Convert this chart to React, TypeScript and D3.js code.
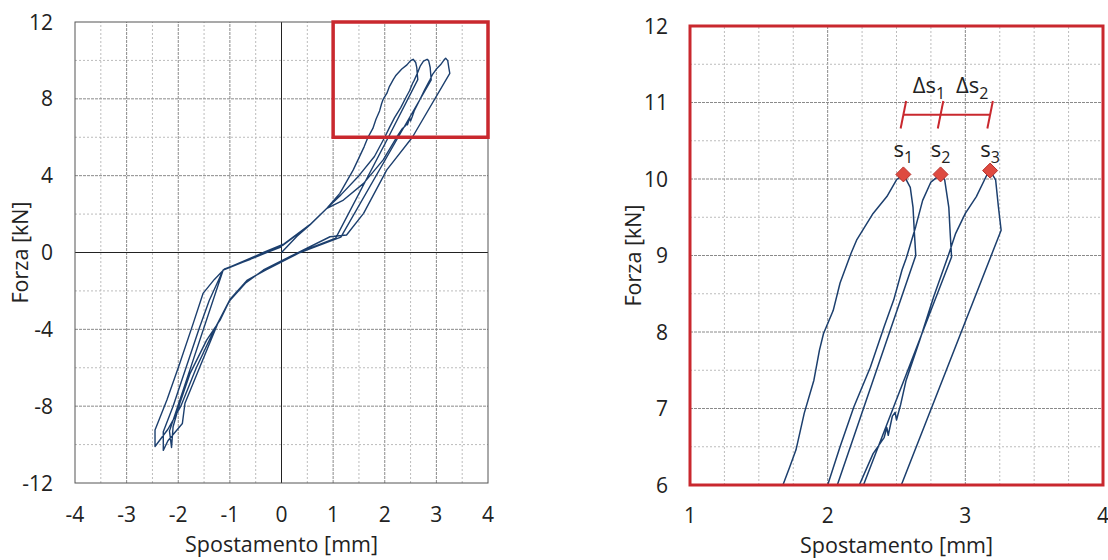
import React, { useEffect, useRef } from "react"
import * as d3 from "d3"

// --- data ---
type Pt = [number, number]

// first loading, origin -> s1
const load1: Pt[] = [
  [0, 0], [0.3, 0.85], [0.55, 1.43], [0.88, 2.3], [1.13, 3.08], [1.39, 4.3], [1.6, 5.5],
  [1.675, 6.0], [1.725, 6.24], [1.77, 6.46], [1.83, 6.94], [1.9, 7.37], [1.94, 7.76],
  [1.97, 7.98], [2.04, 8.28], [2.09, 8.64], [2.17, 9.03], [2.21, 9.2], [2.33, 9.55],
  [2.43, 9.77], [2.5, 9.99], [2.55, 10.06],
]
// s1 -> first negative peak
const unload1: Pt[] = [
  [2.6, 9.89], [2.62, 9.63], [2.63, 9.29], [2.64, 9.0], [2.07, 6.0], [1.05, 0.75],
  [0.3, -0.04], [-0.35, -0.95], [-0.67, -1.5], [-1.0, -2.47], [-1.19, -3.52],
  [-1.45, -4.56], [-1.77, -6.29], [-1.97, -7.85], [-2.1, -9.07], [-2.13, -10.15],
]
// negative peak 1 -> s2
const reload1: Pt[] = [
  [-2.17, -9.3], [-1.13, -0.91], [-0.6, -0.35], [-0.35, -0.04], [0.035, 0.39], [0.55, 1.43],
  [0.88, 2.3], [1.15, 3.0], [1.5, 4.0], [1.8, 5.0], [2.0, 6.0], [2.09, 6.5], [2.19, 7.02],
  [2.31, 7.54], [2.41, 8.07], [2.48, 8.42], [2.54, 8.81], [2.57, 8.96], [2.64, 9.38],
  [2.69, 9.72], [2.75, 9.96], [2.82, 10.06],
]
// s2 -> negative peak 2
const unload2: Pt[] = [
  [2.85, 9.99], [2.88, 9.63], [2.89, 9.29], [2.9, 8.98], [2.26, 6.0], [1.15, 0.8],
  [0.36, 0.0], [-0.3, -0.9], [-0.67, -1.45], [-1.0, -2.45], [-1.22, -3.6], [-1.58, -5.95],
  [-1.87, -7.85], [-1.92, -8.9], [-2.2, -9.8], [-2.29, -10.3],
]
// negative peak 2 -> s3
const reload2: Pt[] = [
  [-2.29, -9.33], [-2.1, -8.0], [-1.85, -6.0], [-1.6, -4.0], [-1.4, -2.5], [-1.13, -0.91],
  [-0.6, -0.3], [-0.35, 0.0], [0.05, 0.45], [0.55, 1.45], [0.88, 2.3], [1.2, 2.73],
  [1.59, 3.6], [1.97, 4.82], [2.23, 6.0], [2.33, 6.41], [2.41, 6.62], [2.43, 6.75],
  [2.44, 6.65], [2.47, 6.9], [2.49, 6.95], [2.5, 6.85], [2.53, 7.05], [2.57, 7.37],
  [2.67, 7.9], [2.77, 8.46], [2.88, 9.02], [2.93, 9.29], [3.0, 9.55], [3.08, 9.77],
  [3.15, 10.03], [3.18, 10.11],
]
// s3 -> negative peak 3
const unload3: Pt[] = [
  [3.22, 9.99], [3.24, 9.64], [3.26, 9.33], [2.535, 6.0], [2.04, 4.3], [1.59, 2.04],
  [1.26, 0.91], [0.94, 0.82], [0.29, -0.04], [-0.35, -0.91], [-0.7, -1.6], [-1.0, -2.5],
  [-1.3, -4.0], [-1.65, -6.0], [-1.95, -8.0], [-2.2, -9.2], [-2.45, -10.1],
]
// negative peak 3 -> back towards origin
const reload3: Pt[] = [
  [-2.45, -9.24], [-2.22, -7.68], [-1.97, -5.77], [-1.71, -3.69], [-1.52, -2.13],
  [-1.3, -1.4], [-1.1, -0.85], [-0.6, -0.35], [-0.3, -0.02], [0, 0.3],
]

const peakX = [2.55, 2.82, 3.18]
const peakY = [10.06, 10.06, 10.11]
const peakIdx = ["1", "2", "3"]
const deltaY = 10.84

const leftXTicks = [-4, -3, -2, -1, 0, 1, 2, 3, 4]
const leftYTicks = [-12, -8, -4, 0, 4, 8, 12]
const rightXTicks = [1, 2, 3, 4]
const rightYTicks = [6, 7, 8, 9, 10, 11, 12]

const FONT = "'Open Sans', sans-serif"
const RED = "#c9282e"
const LINE = "#1c3f6e"

function drawGrid(g: any, x: any, y: any, xs: number[], ys: number[], isMajorX: (v: number) => boolean, isMajorY: (v: number) => boolean) {
  const [x0, x1] = x.range()
  const [y0, y1] = y.range()
  xs.forEach((v) => {
    g.append("line")
      .attr("x1", x(v)).attr("x2", x(v)).attr("y1", y0).attr("y2", y1)
      .attr("stroke", isMajorX(v) ? "#8a8a8a" : "#bcbcbc")
      .attr("stroke-dasharray", isMajorX(v) ? "3,1" : "2,2")
      .attr("stroke-width", 1)
  })
  ys.forEach((v) => {
    g.append("line")
      .attr("x1", x0).attr("x2", x1).attr("y1", y(v)).attr("y2", y(v))
      .attr("stroke", isMajorY(v) ? "#8a8a8a" : "#bcbcbc")
      .attr("stroke-dasharray", isMajorY(v) ? "3,1" : "2,2")
      .attr("stroke-width", 1)
  })
}

export default function App() {
  const ref = useRef<SVGSVGElement>(null)

  useEffect(() => {
    const svg = d3.select(ref.current)
    svg.selectAll("*").remove()

    const curve: Pt[] = [...load1, ...unload1, ...reload1, ...unload2, ...reload2, ...unload3, ...reload3]

    // ---------- left chart ----------
    const xL = d3.scaleLinear().domain([-4, 4]).range([75, 488])
    const yL = d3.scaleLinear().domain([-12, 12]).range([483, 22])
    const gl = svg.append("g")

    const lxs = d3.range(-3.5, 4, 0.5).filter((v) => v !== 0)
    const lys = d3.range(-10, 12, 2).filter((v) => v !== 0)
    drawGrid(gl, xL, yL, lxs, lys, (v) => Number.isInteger(v), (v) => v % 4 === 0)

    gl.append("line").attr("x1", xL(0)).attr("x2", xL(0)).attr("y1", yL(-12)).attr("y2", yL(12))
      .attr("stroke", "#222").attr("stroke-width", 1)
    gl.append("line").attr("x1", xL(-4)).attr("x2", xL(4)).attr("y1", yL(0)).attr("y2", yL(0))
      .attr("stroke", "#222").attr("stroke-width", 1)
    gl.append("rect").attr("x", xL(-4)).attr("y", yL(12)).attr("width", xL(4) - xL(-4)).attr("height", yL(-12) - yL(12))
      .attr("fill", "none").attr("stroke", "#555").attr("stroke-width", 1)

    const lineL = d3.line<Pt>().x((d) => xL(d[0])).y((d) => yL(d[1]))
    gl.append("path").attr("d", lineL(curve)).attr("fill", "none")
      .attr("stroke", LINE).attr("stroke-width", 1.4).attr("stroke-linejoin", "round")

    gl.append("rect").attr("x", xL(1)).attr("y", yL(12)).attr("width", xL(4) - xL(1)).attr("height", yL(6) - yL(12))
      .attr("fill", "none").attr("stroke", RED).attr("stroke-width", 3.5)

    leftYTicks.forEach((v) => {
      gl.append("text").attr("x", 53).attr("y", yL(v)).attr("dy", "0.36em").attr("text-anchor", "end")
        .style("font-family", FONT).style("font-size", "21px").attr("fill", "#222").text(String(v))
    })
    leftXTicks.forEach((v) => {
      gl.append("text").attr("x", xL(v)).attr("y", 522).attr("text-anchor", "middle")
        .style("font-family", FONT).style("font-size", "21px").attr("fill", "#222").text(String(v))
    })
    gl.append("text").attr("x", xL(0)).attr("y", 552).attr("text-anchor", "middle")
      .style("font-family", FONT).style("font-size", "21.5px").attr("fill", "#222").text("Spostamento [mm]")
    gl.append("text").attr("transform", `translate(28,${yL(0)}) rotate(-90)`).attr("text-anchor", "middle")
      .style("font-family", FONT).style("font-size", "21.5px").attr("fill", "#222").text("Forza [kN]")

    // ---------- right chart ----------
    const xR = d3.scaleLinear().domain([1, 4]).range([690, 1103])
    const yR = d3.scaleLinear().domain([6, 12]).range([485, 26])
    const gr = svg.append("g")

    const rxs = d3.range(1.25, 4, 0.25)
    const rys = d3.range(6.5, 12, 0.5)
    drawGrid(gr, xR, yR, rxs, rys, (v) => Number.isInteger(v), (v) => Number.isInteger(v))

    svg.append("defs").append("clipPath").attr("id", "clipR").append("rect")
      .attr("x", xR(1)).attr("y", yR(12)).attr("width", xR(4) - xR(1)).attr("height", yR(6) - yR(12))

    const lineR = d3.line<Pt>().x((d) => xR(d[0])).y((d) => yR(d[1]))
    gr.append("path").attr("d", lineR(curve)).attr("fill", "none").attr("clip-path", "url(#clipR)")
      .attr("stroke", LINE).attr("stroke-width", 1.5).attr("stroke-linejoin", "round")

    gr.append("rect").attr("x", xR(1)).attr("y", yR(12)).attr("width", xR(4) - xR(1)).attr("height", yR(6) - yR(12))
      .attr("fill", "none").attr("stroke", RED).attr("stroke-width", 3)

    // peak markers
    peakX.forEach((px, i) => {
      const cx = xR(px), cy = yR(peakY[i])
      gr.append("path").attr("d", `M${cx},${cy - 7.5}L${cx + 7.5},${cy}L${cx},${cy + 7.5}L${cx - 7.5},${cy}Z`)
        .attr("fill", "#de4a40").attr("stroke", "#b8302b").attr("stroke-width", 1)
      const t = gr.append("text").attr("x", cx).attr("y", yR(10.29)).attr("text-anchor", "middle")
        .style("font-family", FONT).style("font-size", "22px").attr("fill", "#222")
      t.append("tspan").text("s")
      t.append("tspan").attr("dy", 6).style("font-size", "16px").text(peakIdx[i])
    })

    // delta dimension line
    gr.append("line").attr("x1", xR(peakX[0])).attr("x2", xR(peakX[2])).attr("y1", yR(deltaY)).attr("y2", yR(deltaY))
      .attr("stroke", RED).attr("stroke-width", 2)
    peakX.forEach((px) => {
      gr.append("line").attr("x1", xR(px - 0.02)).attr("x2", xR(px + 0.02))
        .attr("y1", yR(deltaY - 0.18)).attr("y2", yR(deltaY + 0.18))
        .attr("stroke", RED).attr("stroke-width", 2)
    })
    for (let i = 0; i < 2; i++) {
      const mid = (peakX[i] + peakX[i + 1]) / 2 + 0.05
      const t = gr.append("text").attr("x", xR(mid)).attr("y", yR(11.12)).attr("text-anchor", "middle")
        .style("font-family", FONT).style("font-size", "22px").attr("fill", "#222")
      t.append("tspan").text("Δs")
      t.append("tspan").attr("dy", 6).style("font-size", "16px").text(peakIdx[i])
    }

    rightYTicks.forEach((v) => {
      gr.append("text").attr("x", 668).attr("y", yR(v)).attr("dy", "0.36em").attr("text-anchor", "end")
        .style("font-family", FONT).style("font-size", "21px").attr("fill", "#222").text(String(v))
    })
    rightXTicks.forEach((v) => {
      gr.append("text").attr("x", xR(v)).attr("y", 523).attr("text-anchor", "middle")
        .style("font-family", FONT).style("font-size", "21px").attr("fill", "#222").text(String(v))
    })
    gr.append("text").attr("x", (xR(1) + xR(4)) / 2).attr("y", 553).attr("text-anchor", "middle")
      .style("font-family", FONT).style("font-size", "21.5px").attr("fill", "#222").text("Spostamento [mm]")
    gr.append("text").attr("transform", `translate(641,${(yR(6) + yR(12)) / 2}) rotate(-90)`).attr("text-anchor", "middle")
      .style("font-family", FONT).style("font-size", "21.5px").attr("fill", "#222").text("Forza [kN]")
  }, [])

  return (
    <svg ref={ref} width={1108} height={560}
      style={{ position: "absolute", left: 0, top: 0, background: "#fff", display: "block" }} />
  )
}
